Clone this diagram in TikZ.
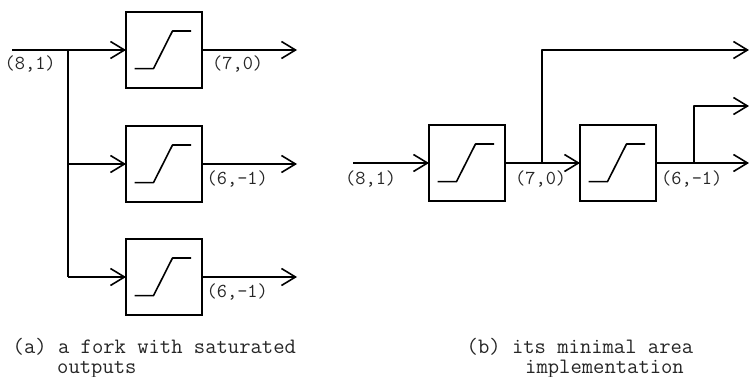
\documentclass[tikz,border=0pt]{standalone}
\usetikzlibrary{arrows.meta}
\tikzset{
  x=1pt,y=-1pt,
  wire/.style={line width=1.6pt,line join=round,-{Straight Barb[length=14pt,width=17pt,line width=1.6pt]}},
  plainwire/.style={line width=1.6pt,line join=round},
  satbox/.style={draw,line width=1.6pt,minimum width=76pt,minimum height=76pt,inner sep=0pt,outer sep=0pt},
  lbl/.style={font=\ttfamily\fontsize{19.8}{21}\selectfont,text=black!85,inner sep=0pt,anchor=base west},
  captext/.style={font=\ttfamily\fontsize{22}{24}\selectfont,text=black!85,inner sep=0pt,anchor=base west},
  pics/sat/.style={code={\draw[line width=1.6pt,line join=round] (-29.5,18.6) -- (-10.5,18.6) -- (8.5,-19) -- (27.2,-19);}}
}
\begin{document}
\begin{tikzpicture}
\useasboundingbox (0,0) rectangle (749,377);
% (a)
\node[satbox] (a1) at (164,50) {};
\node[satbox] (a2) at (164,164) {};
\node[satbox] (a3) at (164,277) {};
\pic at (a1.center) {sat};
\pic at (a2.center) {sat};
\pic at (a3.center) {sat};
\coordinate (ain) at (12,50);
\coordinate (aj) at (68,50);
\coordinate (aj2) at (68,164);
\coordinate (aj3) at (68,277);
\coordinate (ao1) at (297,50);
\coordinate (ao2) at (297,164);
\coordinate (ao3) at (297,277);
\draw[wire] (ain) -- (a1.west);
\draw[plainwire] (aj) -- (aj3);
\draw[wire] (aj2) -- (a2.west);
\draw[wire] (aj3) -- (a3.west);
\draw[wire] (a1.east) -- (ao1);
\draw[wire] (a2.east) -- (ao2);
\draw[wire] (a3.east) -- (ao3);
\node[lbl] (la) at (4.5,69.5) {(8,1)};
\node[lbl] (lb) at (212,69.5) {(7,0)};
\node[lbl] (lc) at (206.5,184) {(6,-1)};
\node[lbl] (ld) at (206.5,297) {(6,-1)};
\node[captext] (ca) at (12.5,353) {(a) a fork with saturated};
\node[captext] (cb) at (57,373) {outputs};
% (b)
\node[satbox] (b1) at (467,163) {};
\node[satbox] (b2) at (618,163) {};
\pic at (b1.center) {sat};
\pic at (b2.center) {sat};
\coordinate (bin) at (353,163);
\coordinate (bj) at (542,163);
\coordinate (bt) at (542,50);
\coordinate (bo1) at (749,50);
\coordinate (bk) at (694,163);
\coordinate (bm) at (694,106);
\coordinate (bo2) at (749,106);
\coordinate (bo3) at (749,163);
\draw[wire] (bin) -- (b1.west);
\draw[wire] (b1.east) -- (b2.west);
\draw[wire] (b2.east) -- (bo3);
\draw[wire] (bj) -- (bt) -- (bo1);
\draw[wire] (bk) -- (bm) -- (bo2);
\node[lbl] (le) at (345,184) {(8,1)};
\node[lbl] (lf) at (515,184) {(7,0)};
\node[lbl] (lg) at (661,184) {(6,-1)};
\node[captext] (cc) at (466.5,353) {(b) its minimal area};
\node[captext] (cd) at (525,373) {implementation};
\end{tikzpicture}
\end{document}
